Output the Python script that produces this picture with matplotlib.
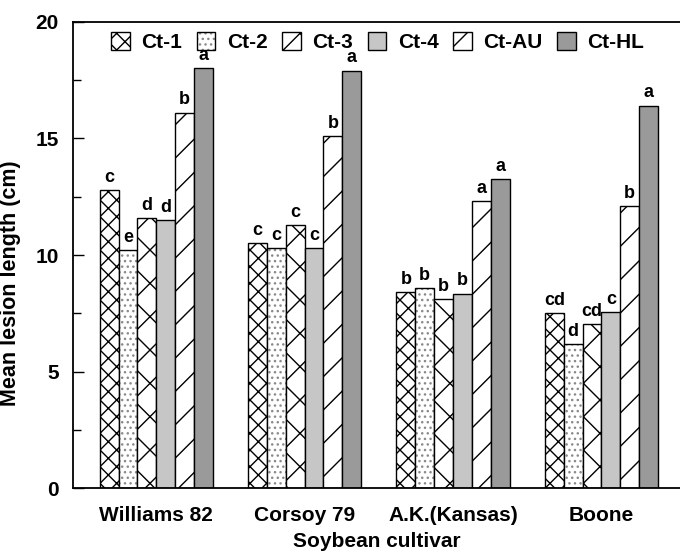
import numpy as np
import matplotlib
matplotlib.use("Agg")
import matplotlib.pyplot as plt
from matplotlib.patches import Rectangle

plt.rcParams['font.family'] = ['Liberation Sans', 'DejaVu Sans']
plt.rcParams['font.weight'] = 'bold'
plt.rcParams['hatch.linewidth'] = 1.0

cultivars = ["Williams 82", "Corsoy 79", "A.K.(Kansas)", "Boone"]
isolates = ["Ct-1", "Ct-2", "Ct-3", "Ct-4", "Ct-AU", "Ct-HL"]

ct1 = [12.8, 10.5, 8.4, 7.5]
ct2 = [10.2, 10.3, 8.6, 6.2]
ct3 = [11.6, 11.3, 8.1, 7.05]
ct4 = [11.5, 10.3, 8.35, 7.55]
ct_au = [16.1, 15.1, 12.3, 12.1]
ct_hl = [18.0, 17.9, 13.25, 16.4]

lab1 = ["c", "c", "b", "cd"]
lab2 = ["e", "c", "b", "d"]
lab3 = ["d", "c", "b", "cd"]
lab4 = ["d", "c", "b", "c"]
lab_au = ["b", "b", "a", "b"]
lab_hl = ["a", "a", "a", "a"]

series = [ct1, ct2, ct3, ct4, ct_au, ct_hl]
letters = [lab1, lab2, lab3, lab4, lab_au, lab_hl]
# fill, hatch, hatch colour for each isolate
styles = [
    ("white", "xx", "black"),
    ("white", "...", "#8a8a8a"),
    ("white", "x", "black"),
    ("#c6c6c6", None, "black"),
    ("white", "/", "black"),
    ("#9a9a9a", None, "black"),
]

fig = plt.figure(figsize=(6.8, 5.55), dpi=100)
ax = fig.add_axes([0.107, 0.120, 0.893, 0.841])

x = np.arange(len(cultivars))
w = 0.127
handles = []
for i, (vals, (fc, hatch, hc), labs) in enumerate(zip(series, styles, letters)):
    pos = x + (i - 2.5) * w
    # hatched fill (hatch takes the edge colour), then a black outline on top
    ax.bar(pos, vals, width=w, facecolor=fc, edgecolor=hc, hatch=hatch,
           linewidth=0)
    ax.bar(pos, vals, width=w, facecolor="none", edgecolor="black",
           linewidth=1.0)
    h_fill = Rectangle((0, 0), 1, 1, facecolor=fc, edgecolor=hc,
                       hatch=hatch, linewidth=0)
    h_edge = Rectangle((0, 0), 1, 1, facecolor="none", edgecolor="black",
                       linewidth=1.0)
    handles.append((h_fill, h_edge))
    for p, v, t in zip(pos, vals, labs):
        ax.text(p, v + 0.35, t, ha="center", va="baseline",
                fontsize=13, fontweight="bold")

ax.set_xlim(-0.563, 3.53)
ax.set_ylim(0, 20)
ax.set_yticks([0, 5, 10, 15, 20])
ax.set_yticks(np.arange(2.5, 20, 5), minor=True)
ax.tick_params(axis="y", which="major", direction="in", length=8, width=1,
               labelsize=15, pad=10)
ax.tick_params(axis="y", which="minor", direction="in", length=6, width=1)
ax.set_xticks(x)
ax.set_xticklabels(cultivars, fontsize=15, fontweight="bold")
ax.tick_params(axis="x", length=0, pad=13)
for lbl in ax.get_yticklabels():
    lbl.set_fontweight("bold")
ax.spines["right"].set_visible(False)
for s in ["left", "top", "bottom"]:
    ax.spines[s].set_linewidth(1.3)

ax.set_ylabel("Mean lesion length (cm)", fontsize=15.5, fontweight="bold")
ax.yaxis.set_label_coords(-0.085, 0.44)
ax.set_xlabel("Soybean cultivar", fontsize=15, fontweight="bold", labelpad=5)

ax.legend(handles, isolates, loc="center", bbox_to_anchor=(0.502, 0.956),
          ncol=6, frameon=False, fontsize=15, handlelength=0.9,
          handleheight=0.9, handletextpad=0.55, columnspacing=0.7,
          borderaxespad=0)

fig.savefig("out.png", dpi=100)
